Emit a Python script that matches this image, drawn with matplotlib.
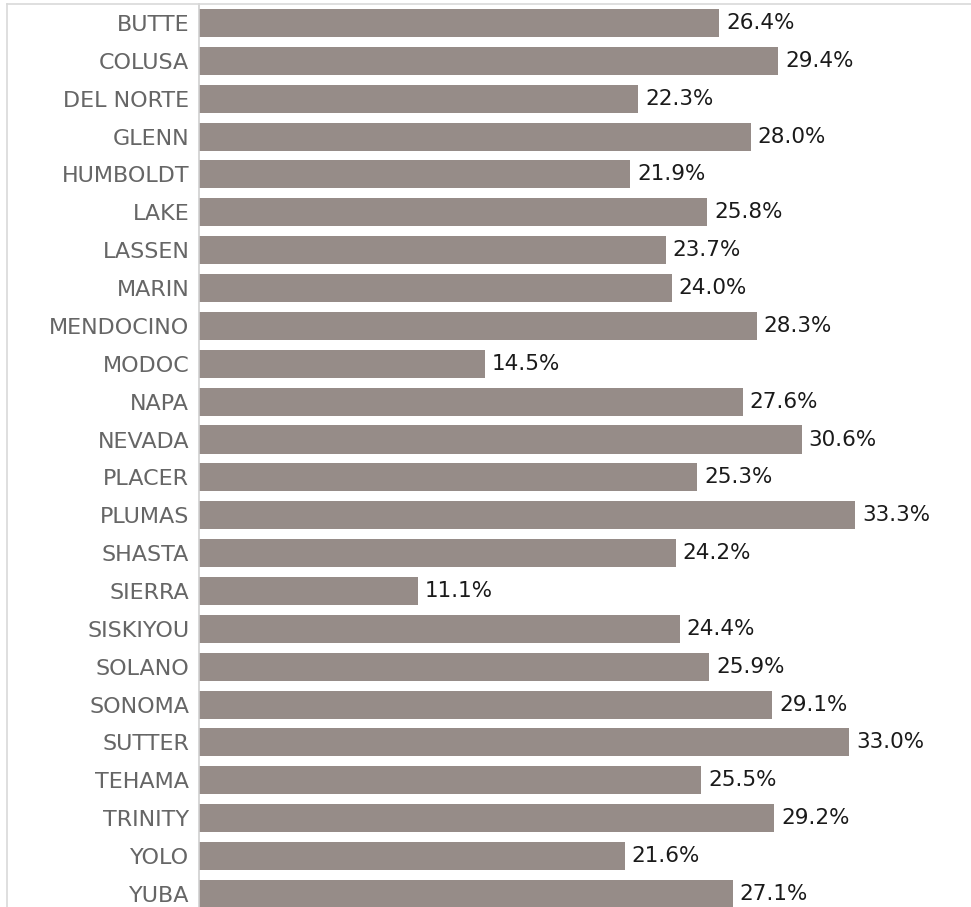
import matplotlib
matplotlib.use("Agg")
import matplotlib.pyplot as plt
from matplotlib.lines import Line2D

counties = ["BUTTE", "COLUSA", "DEL NORTE", "GLENN", "HUMBOLDT", "LAKE", "LASSEN",
            "MARIN", "MENDOCINO", "MODOC", "NAPA", "NEVADA", "PLACER", "PLUMAS",
            "SHASTA", "SIERRA", "SISKIYOU", "SOLANO", "SONOMA", "SUTTER", "TEHAMA",
            "TRINITY", "YOLO", "YUBA"]
pct = [26.4, 29.4, 22.3, 28.0, 21.9, 25.8, 23.7, 24.0, 28.3, 14.5, 27.6, 30.6,
       25.3, 33.3, 24.2, 11.1, 24.4, 25.9, 29.1, 33.0, 25.5, 29.2, 21.6, 27.1]

W, H = 971, 907
fig = plt.figure(figsize=(W / 100, H / 100), dpi=100)
ax = fig.add_axes([199 / W, 0, 1 - 199 / W, (H - 4) / H])

ypos = list(range(len(counties)))
ax.barh(ypos, pct, height=0.74, color="#968c88")

# 19.7 px per percent point
ax.set_xlim(0, (W - 199) / 19.7)
ax.set_ylim(-0.5 + (H - 4) / 37.87, -0.5)

for y, v in zip(ypos, pct):
    ax.text(v + 0.35, y, f"{v:.1f}%", va="center", ha="left",
            fontsize=15.5, color="#1a1a1a")

ax.set_yticks(ypos)
ax.set_yticklabels(counties, fontsize=16, color="#666666")
ax.tick_params(axis="y", length=0, pad=7)
ax.set_xticks([])

for s in ["right", "bottom"]:
    ax.spines[s].set_visible(False)
ax.spines["left"].set_color("#cfcfcf")
ax.spines["left"].set_linewidth(1.2)
ax.spines["top"].set_color("#d9d9d9")
ax.spines["top"].set_linewidth(1.2)

# outer frame lines to the left of the labels
fig.add_artist(Line2D([7 / W, 7 / W], [0, (H - 4) / H], color="#d9d9d9", lw=1.2,
                      transform=fig.transFigure))
fig.add_artist(Line2D([7 / W, 199 / W], [(H - 4) / H, (H - 4) / H], color="#d9d9d9",
                      lw=1.2, transform=fig.transFigure))

fig.savefig("out.png", dpi=100)
